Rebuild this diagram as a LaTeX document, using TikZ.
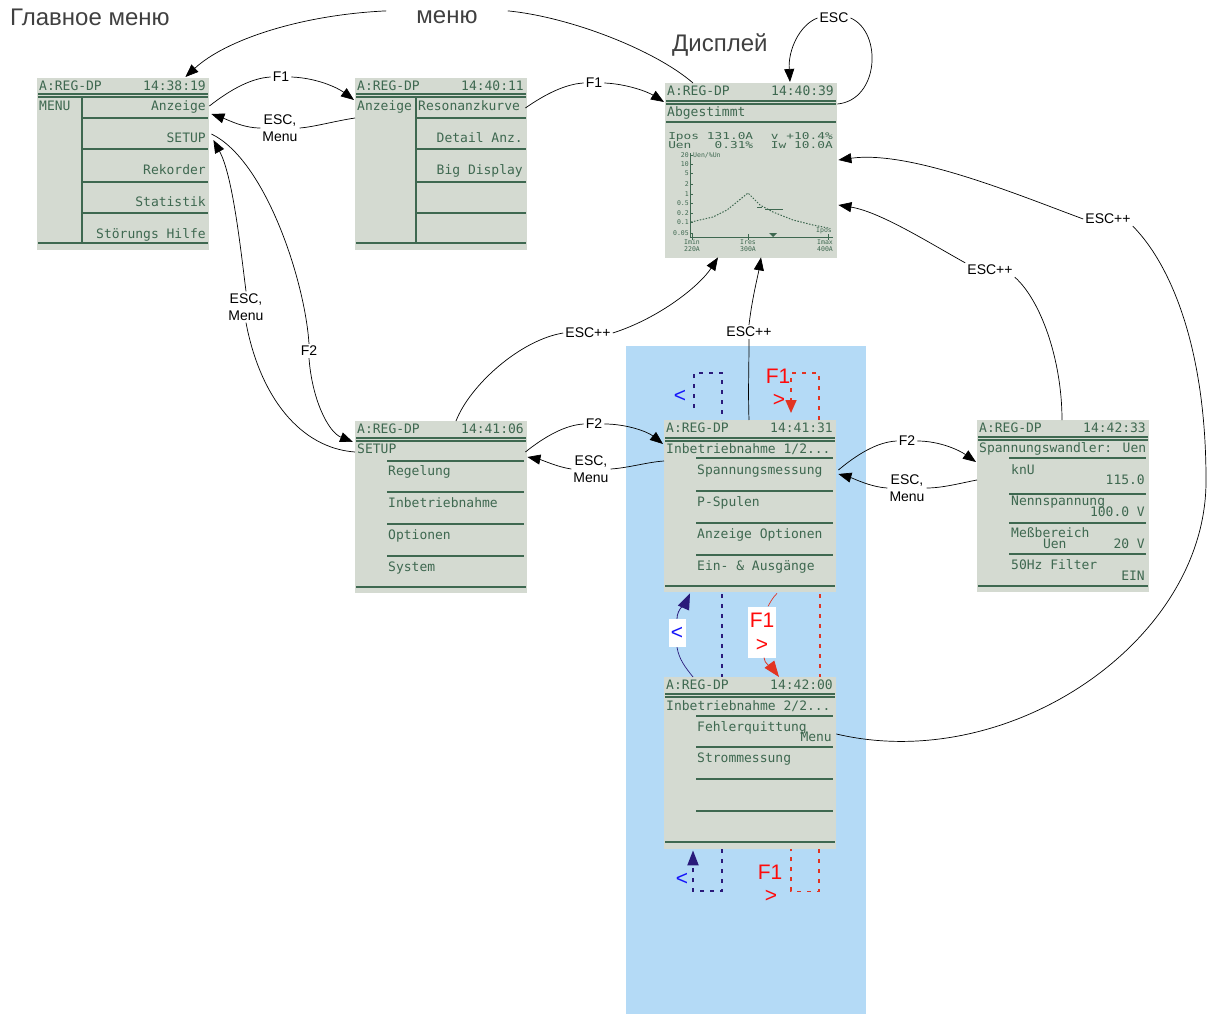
\documentclass[tikz,border=0pt]{standalone}
\usepackage{fontspec}
\setmainfont{Liberation Sans}
\newfontfamily\lcdfont{DejaVu Sans Mono}
\usetikzlibrary{arrows.meta,calc}

\definecolor{lcdbg}{RGB}{212,218,209}
\definecolor{lcdfg}{RGB}{62,104,80}
\definecolor{hellblau}{RGB}{180,218,246}
\definecolor{dunkelblau}{RGB}{42,26,122}
\definecolor{blau}{RGB}{20,20,250}
\definecolor{rot}{RGB}{226,52,34}
\definecolor{rottext}{RGB}{255,10,10}
\definecolor{grau}{RGB}{64,64,64}

\tikzset{
  lcd/.style={fill=lcdbg, inner sep=0pt, anchor=north west, minimum width=172pt, minimum height=172pt},
  lcdtxt/.style={font=\lcdfont\fontsize{13}{13}\selectfont, text=lcdfg, inner sep=0pt, text height=9.5pt, text depth=0pt},
  lcdmittel/.style={font=\lcdfont\fontsize{9.5}{9.5}\selectfont, text=lcdfg, inner sep=0pt, text height=6.5pt, text depth=0pt, xscale=1.35},
  lcdklein/.style={font=\lcdfont\fontsize{6.5}{6.5}\selectfont, text=lcdfg, inner sep=0pt, text height=4.8pt, text depth=0pt},
  lcdlinie/.style={draw=lcdfg, line width=1.3pt},
  taste/.style={font=\fontsize{14}{17}\selectfont, align=center, inner sep=2pt},
  titel/.style={font=\fontsize{24}{26}\selectfont, text=grau, inner sep=0pt},
  linie/.style={line width=0.7pt},
  pfeil/.style={line width=0.7pt, -{Triangle[length=13pt,width=10pt]}},
  blaupunkt/.style={draw=dunkelblau, line width=2pt, dash pattern=on 4pt off 6pt},
  rotpunkt/.style={draw=rot, line width=1.6pt, dash pattern=on 4pt off 6pt},
  rottxt/.style={font=\fontsize{21}{24}\selectfont, text=rottext, inner sep=0pt},
  blautxt/.style={font=\fontsize{21}{24}\selectfont, text=blau, inner sep=0pt},
  kasten/.style={fill=white, inner sep=0pt, align=center, font=\fontsize{21}{24}\selectfont}
}

% Kopfzeile einer Anzeige: Name, Uhrzeit, Lage der Doppellinie
\newcommand\lcdkopf[3]{%
  \node[lcdtxt, anchor=west] (#1-id) at (2,8) {A:REG-DP};
  \node[lcdtxt, anchor=east] (#1-zeit) at (169,8) {#2};
  \draw[lcdlinie] (1,#3) -- (171,#3) (1,#3+3) -- (171,#3+3);
}

\begin{document}
\begin{tikzpicture}[x=1pt, y=-1pt]
\useasboundingbox (0,0) rectangle (1207,1014);
\fill[hellblau] (626,346) rectangle (866,1014);

\node[titel, anchor=base west] (titel-hm) at (10,26) {Главное меню};
\node[titel, anchor=base west] (titel-dsp) at (672,52) {Дисплей};
\node[titel, anchor=base, inner xsep=30pt] (lbl-menu) at (447,24) {меню};

% Hauptmenue
\begin{scope}[shift={(37,78)}]
  \node[lcd] (hm) at (0,0) {};
  \lcdkopf{hm}{14:38:19}{16}
  \node[lcdtxt, anchor=west] (hm-titel) at (2,28) {MENU};
  \draw[lcdlinie] (45,19) -- (45,165) (1,165) -- (171,165);
  \foreach \y in {40,71,104,135} \draw[lcdlinie] (45,\y) -- (171,\y);
  \node[lcdtxt, anchor=east] (hm-anz) at (169,28) {Anzeige};
  \node[lcdtxt, anchor=east] (hm-setup) at (169,60) {SETUP};
  \node[lcdtxt, anchor=east] (hm-rek) at (169,92) {Rekorder};
  \node[lcdtxt, anchor=east] (hm-stat) at (169,124) {Statistik};
  \node[lcdtxt, anchor=east] (hm-hilfe) at (169,156) {Störungs Hilfe};
\end{scope}

% Anzeige
\begin{scope}[shift={(355,78)}]
  \node[lcd] (anz) at (0,0) {};
  \lcdkopf{anz}{14:40:11}{16}
  \draw[lcdlinie] (61,19) -- (61,165) (1,165) -- (171,165);
  \foreach \y in {40,71,104,135} \draw[lcdlinie] (61,\y) -- (171,\y);
  \node[lcdtxt, anchor=west] (anz-titel) at (2,28) {Anzeige};
  \node[lcdtxt, anchor=west] (anz-res) at (63,28) {Resonanzkurve};
  \node[lcdtxt, anchor=east] (anz-det) at (168,60) {Detail Anz.};
  \node[lcdtxt, anchor=east] (anz-big) at (168,92) {Big Display};
\end{scope}

% Resonanzkurve
\begin{scope}[shift={(665,83)}]
  \node[lcd, minimum height=175pt] (dsp) at (0,0) {};
  \lcdkopf{dsp}{14:40:39}{18}
  \node[lcdtxt, anchor=west] (dsp-titel) at (2,29) {Abgestimmt};
  \draw[lcdlinie] (1,39) -- (171,39);
  \node[lcdmittel, anchor=west] (dsp-ipos) at (3,53) {Ipos 131.0A};
  \node[lcdmittel, anchor=east] (dsp-v) at (168,53) {v +10.4\%};
  \node[lcdmittel, anchor=west] (dsp-uen) at (3,62.5) {Uen~~~0.31\%};
  \node[lcdmittel, anchor=east] (dsp-iw) at (168,62.5) {Iw 10.0A};
  \draw[lcdfg, line width=0.8pt] (25,70) -- (25,154) -- (168,154);
  \foreach \y/\t [count=\i] in {72/20,81/10,90/5,101/2,111/1,120/0.5,130/0.2,139/0.1,150/0.05} {
    \draw[lcdfg, line width=0.8pt] (25,\y) -- (28,\y);
    \node[lcdklein, anchor=east] (dsp-y\i) at (24,\y) {\t};
  }
  \node[lcdklein, anchor=west] (dsp-einheit) at (28,72) {Uen/\%Un};
  \draw[lcdfg, line width=1pt, dash pattern=on 1.5pt off 1.5pt]
    (26,139) -- (48,134) -- (62,127) -- (83,110) -- (95,122) -- (108,129)
    -- (128,137) -- (148,142) -- (163,145);
  \draw[lcdfg, line width=1pt] (92,124) -- (97,124) (100,126) -- (118,126);
  \node[lcdklein, anchor=west] (dsp-marke) at (151,147) {Ipos};
  \foreach \x in {27,83,163} \draw[lcdfg, line width=0.8pt] (\x,151) -- (\x,157);
  \fill[lcdfg] (104,150) -- (112,150) -- (108,154) -- cycle;
  \foreach \x/\a/\b [count=\i] in {27/Imin/220A,83/Ires/300A,160/Imax/400A} {
    \node[lcdklein] (dsp-x\i) at (\x,159) {\a};
    \node[lcdklein] (dsp-w\i) at (\x,166) {\b};
  }
\end{scope}

% SETUP
\begin{scope}[shift={(355,421)}]
  \node[lcd] (setup) at (0,0) {};
  \lcdkopf{setup}{14:41:06}{17}
  \node[lcdtxt, anchor=west] (setup-titel) at (2,28) {SETUP};
  \draw[lcdlinie] (1,166) -- (171,166);
  \foreach \y in {40,71,103,135} \draw[lcdlinie] (32,\y) -- (169,\y);
  \foreach \t [count=\i] in {Regelung,Inbetriebnahme,Optionen,System}
    \node[lcdtxt, anchor=west] (setup-\i) at (33,18+32*\i) {\t};
\end{scope}

% Inbetriebnahme Seite 1
\begin{scope}[shift={(664,420)}]
  \node[lcd] (inb1) at (0,0) {};
  \lcdkopf{inb1}{14:41:31}{18}
  \node[lcdtxt, anchor=west] (inb1-titel) at (2,29) {Inbetriebnahme 1/2...};
  \draw[lcdlinie] (1,166) -- (171,166);
  \foreach \y in {38,71,103,135} \draw[lcdlinie] (32,\y) -- (169,\y);
  \foreach \t [count=\i] in {Spannungsmessung,P-Spulen,Anzeige Optionen,Ein- \& Ausgänge}
    \node[lcdtxt, anchor=west] (inb1-\i) at (33,18+32*\i) {\t};
\end{scope}

% Inbetriebnahme Seite 2
\begin{scope}[shift={(664,677)}]
  \node[lcd] (inb2) at (0,0) {};
  \lcdkopf{inb2}{14:42:00}{17}
  \node[lcdtxt, anchor=west] (inb2-titel) at (2,29) {Inbetriebnahme 2/2...};
  \draw[lcdlinie] (1,165) -- (171,165);
  \foreach \y in {39,70,102,134} \draw[lcdlinie] (32,\y) -- (169,\y);
  \node[lcdtxt, anchor=west] (inb2-1) at (33,50) {Fehlerquittung};
  \node[lcdtxt, anchor=east] (inb2-menu) at (168,60) {Menu};
  \node[lcdtxt, anchor=west] (inb2-2) at (33,81) {Strommessung};
\end{scope}

% Spannungswandler
\begin{scope}[shift={(977,420)}]
  \node[lcd] (sw) at (0,0) {};
  \lcdkopf{sw}{14:42:33}{17}
  \node[lcdtxt, anchor=west] (sw-titel) at (2,28) {Spannungswandler: Uen};
  \draw[lcdlinie] (1,166) -- (171,166);
  \foreach \y in {38,74,103,134} \draw[lcdlinie] (32,\y) -- (169,\y);
  \node[lcdtxt, anchor=west] (sw-knu) at (34,50) {knU};
  \node[lcdtxt, anchor=east] (sw-knu-w) at (168,60) {115.0};
  \node[lcdtxt, anchor=west] (sw-nenn) at (34,81) {Nennspannung};
  \node[lcdtxt, anchor=east] (sw-nenn-w) at (168,92) {100.0~V};
  \node[lcdtxt, anchor=west] (sw-bereich) at (34,113) {Meßbereich};
  \node[lcdtxt, anchor=east] (sw-bereich-w) at (168,124) {Uen~~~~~~20~V};
  \node[lcdtxt, anchor=west] (sw-filter) at (34,145) {50Hz Filter};
  \node[lcdtxt, anchor=east] (sw-filter-w) at (168,156) {EIN};
\end{scope}

% Tastenbeschriftungen
\node[taste] (lbl-esc) at (834,18) {ESC};
\node[taste] (lbl-f1a) at (281,77) {F1};
\node[taste] (lbl-esc-a) at (280,128) {ESC,\\Menu};
\node[taste] (lbl-f1b) at (594,83) {F1};
\node[taste] (lbl-esc-b) at (246,307) {ESC,\\Menu};
\node[taste] (lbl-f2a) at (309,351) {F2};
\node[taste] (lbl-ep-a) at (588,333) {ESC++};
\node[taste] (lbl-ep-b) at (749,332) {ESC++};
\node[taste] (lbl-ep-c) at (990,270) {ESC++};
\node[taste] (lbl-ep-d) at (1108,219) {ESC++};
\node[taste] (lbl-f2b) at (594,424) {F2};
\node[taste] (lbl-esc-c) at (591,469) {ESC,\\Menu};
\node[taste] (lbl-f2c) at (907,441) {F2};
\node[taste] (lbl-esc-d) at (907,488) {ESC,\\Menu};

% Menue und Anzeige
\draw[linie] ($(dsp.north west)+(28,0)$) .. controls +(-38,-33) and +(62,6) .. (lbl-menu.north east);
\draw[pfeil] (lbl-menu.north west) .. controls +(-86,4) and +(40,-37) .. ($(hm.north east)+(-24,-1)$);
\draw[linie] ($(dsp.north east)+(0,21)$) .. controls +(42,-4) and +(32,14) .. (lbl-esc.east);
\draw[pfeil] (lbl-esc.west) .. controls +(-18,7) and +(-2,-32) .. ($(dsp.north west)+(125,-1)$);
\draw[linie] (hm.east |- hm-anz) .. controls +(23,-18) and +(-18,1) .. (lbl-f1a.west);
\draw[pfeil] (lbl-f1a.east) .. controls +(26,1) and +(-16,-12) .. ($(anz.north west)+(-1,22)$);
\draw[linie] ($(anz.north west)+(0,40)$) .. controls +(-20,3) and +(14,-1) .. (lbl-esc-a.east);
\draw[pfeil] (lbl-esc-a.west) .. controls +(-17,0) and +(17,6) .. ($(hm.north east)+(2,36)$);
\draw[linie] ($(anz.north east)+(-2,30)$) .. controls +(20,-14) and +(-18,1) .. (lbl-f1b.west);
\draw[pfeil] (lbl-f1b.east) .. controls +(23,1) and +(-16,-10) .. ($(dsp.north west)+(-1,19)$);

% SETUP
\draw[linie] ($(setup.north west)+(0,31)$) .. controls +(-55,-4) and +(14,74) .. (lbl-esc-b.south);
\draw[pfeil] (lbl-esc-b.north) .. controls +(-6,-48) and +(19,35) .. ($(hm.north east)+(4,62)$);
\draw[linie] ($(hm.north east)+(2,56)$) .. controls +(54,26) and +(-4,-63) .. (lbl-f2a.north);
\draw[pfeil] (lbl-f2a.south) .. controls +(3,41) and +(-25,-10) .. ($(setup.north west)+(-2,21)$);
\draw[linie] ($(setup.north west)+(101,0)$) .. controls +(14,-36) and +(-43,7) .. (lbl-ep-a.west);
\draw[pfeil] (lbl-ep-a.east) .. controls +(47,-15) and +(-18,28) .. ($(dsp.south west)+(53,-1)$);
\draw[linie] ($(setup.north east)+(-2,31)$) .. controls +(20,-16) and +(-18,1) .. (lbl-f2b.west);
\draw[pfeil] (lbl-f2b.east) .. controls +(23,0) and +(-15,-12) .. ($(inb1.north west)+(-1,24)$);
\draw[linie] ($(inb1.north west)+(0,41)$) .. controls +(-16,1) and +(17,-1) .. (lbl-esc-c.east);
\draw[pfeil] (lbl-esc-c.west) .. controls +(-14,-2) and +(15,3) .. ($(setup.north east)+(0,36)$);

% Inbetriebnahme
\draw[linie] ($(inb1.north west)+(85,0)$) .. controls +(-1,-30) and +(0,30) .. (lbl-ep-b.south);
\draw[pfeil] (lbl-ep-b.north) .. controls +(3,-26) and +(-3,18) .. ($(dsp.south west)+(96,-1)$);
\draw[linie] ($(inb1.north east)+(2,50)$) .. controls +(18,-15) and +(-20,1) .. (lbl-f2c.west);
\draw[pfeil] (lbl-f2c.east) .. controls +(22,0) and +(-17,-12) .. ($(sw.north west)+(-1,42)$);
\draw[linie] ($(sw.north west)+(0,60)$) .. controls +(-16,3) and +(16,0) .. (lbl-esc-d.east);
\draw[pfeil] (lbl-esc-d.west) .. controls +(-17,-1) and +(14,4) .. ($(inb1.north east)+(2,54)$);
\draw[linie] ($(sw.north west)+(85,0)$) .. controls +(0,-60) and +(26,23) .. (lbl-ep-c.south east);
\draw[pfeil] (lbl-ep-c.north west) .. controls +(-36,-20) and +(42,7) .. ($(dsp.north east)+(1,122)$);
\draw[linie] ($(inb2.north east)+(0,57)$) .. controls +(174,41) and +(1,160) .. (1206,480)
  .. controls +(0,-140) and +(34,34) .. (lbl-ep-d.south east);
\draw[pfeil] (lbl-ep-d.west) .. controls +(-65,-24) and +(72,-10) .. ($(dsp.north east)+(1,77)$);

% Blaettern mit < und F1 >
\node[blautxt] (kl-oben) at (680,396) {<};
\node[rottxt] (f1-oben) at (778,376) {F1};
\node[rottxt] (gr-oben) at (779,400) {>};
\node[blautxt] (kl-unten) at (682,879) {<};
\node[rottxt] (f1-unten) at (770,872) {F1};
\node[rottxt] (gr-unten) at (771,896) {>};
\node[kasten, text=blau, minimum width=17pt, minimum height=28pt] (kl-mitte) at (677,633) {<};
\node[kasten, text=rottext, minimum width=28pt, minimum height=51pt] (f1-mitte) at (762,632) {F1\\>};

\draw[blaupunkt] ($(inb1.north west)+(30,-12)$) |- ($(inb1.north west)+(58,-47)$) -- ($(inb1.north west)+(58,0)$);
\draw[rotpunkt, -{Triangle[length=13pt,width=11pt]}] ($(inb1.north west)+(155,0)$) |- ($(inb1.north west)+(127,-47)$) -- ($(inb1.north west)+(127,-7)$);
\draw[blaupunkt] ($(inb1.south west)+(58,2)$) -- ($(inb2.north west)+(58,0)$);
\draw[rotpunkt] ($(inb1.south west)+(156,2)$) -- ($(inb2.north west)+(156,0)$);
\draw[blaupunkt, -{Triangle[length=15pt,width=11pt]}] ($(inb2.south west)+(58,0)$) |- ($(inb2.south west)+(29,42)$) -- ($(inb2.south west)+(29,1)$);
\draw[rotpunkt] ($(inb2.south west)+(155,0)$) |- ($(inb2.south west)+(127,42)$) -- ($(inb2.south west)+(127,0)$);

\draw[dunkelblau, linie] ($(inb2.north west)+(29,0)$) .. controls +(-8,-10) and +(2,12) .. (kl-mitte.south);
\draw[dunkelblau, line width=0.8pt, -{Triangle[length=16pt,width=12pt]}] (kl-mitte.north) .. controls +(0,-10) and +(-4,9) .. ($(inb1.south west)+(26,1)$);
\draw[rot, linie] ($(inb1.south west)+(113,1)$) .. controls +(-5,5) and +(3,-5) .. ($(f1-mitte.north)+(6,0)$);
\draw[rot, line width=0.8pt, -{Triangle[length=16pt,width=12pt]}] ($(f1-mitte.south)+(2,0)$) .. controls +(0,6) and +(-6,-8) .. ($(inb2.north west)+(115,0)$);
\end{tikzpicture}
\end{document}
